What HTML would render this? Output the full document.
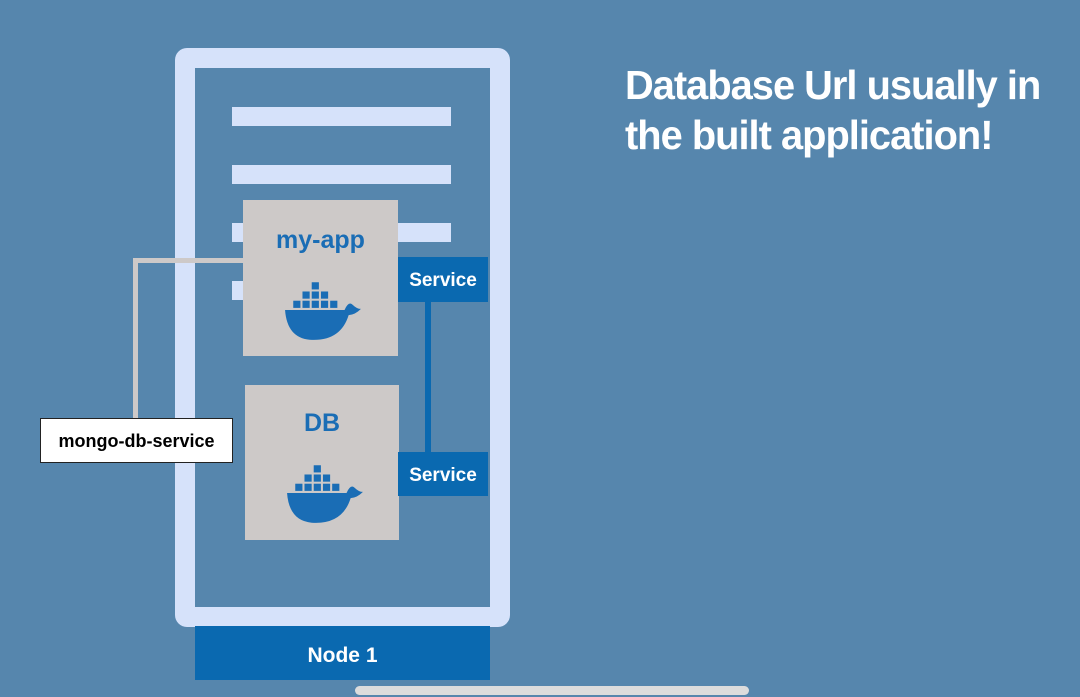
<!DOCTYPE html>
<html><head><style>
body{margin:0;width:1080px;height:697px;background:#5686ad;position:relative;overflow:hidden;font-family:"Comic Sans MS","Liberation Sans",sans-serif}
div{position:absolute;box-sizing:border-box}
.bar{background:#d6e2fa;left:232px;width:219px;height:19px}
.box{background:#cdc9c8}
.svc{background:#0a69b0;color:#fff;font-weight:bold;font-size:19px;text-align:center;left:398px;width:90px;height:45px;line-height:48px}
.lbl{color:#1a6db5;font-weight:bold;font-size:25px;width:100%;text-align:center}
</style></head><body>
<div style="left:175px;top:48px;width:335px;height:579px;border:20px solid #d6e2fa;border-radius:12px"></div>
<div class="bar" style="top:107px"></div>
<div class="bar" style="top:165px"></div>
<div class="bar" style="top:223px"></div>
<div class="bar" style="top:281px"></div>
<div style="left:133px;top:258px;width:110px;height:5px;background:#cdc9c8"></div>
<div style="left:133px;top:258px;width:5px;height:162px;background:#cdc9c8"></div>
<div class="box" style="left:243px;top:200px;width:155px;height:156px"><div class="lbl" style="top:26px">my-app</div>
<svg style="position:absolute;left:40px;top:82px" width="80" height="60" viewBox="0 0 78 58"><g fill="#1a6db5"><rect x="28" y="0" width="7" height="7"/><rect x="19" y="9" width="7" height="7"/><rect x="28" y="9" width="7" height="7"/><rect x="37" y="9" width="7" height="7"/><rect x="10" y="18" width="7" height="7"/><rect x="19" y="18" width="7" height="7"/><rect x="28" y="18" width="7" height="7"/><rect x="37" y="18" width="7" height="7"/><rect x="46" y="18" width="7" height="7"/><path d="M2 27 H60 Q64 18 68 22 Q72 26 76 26 Q70 32 64 32 Q56 58 26 56 Q4 54 2 27Z"/></g></svg></div>
<div class="box" style="left:245px;top:385px;width:154px;height:155px"><div class="lbl" style="top:24px">DB</div>
<svg style="position:absolute;left:40px;top:80px" width="80" height="60" viewBox="0 0 78 58"><g fill="#1a6db5"><rect x="28" y="0" width="7" height="7"/><rect x="19" y="9" width="7" height="7"/><rect x="28" y="9" width="7" height="7"/><rect x="37" y="9" width="7" height="7"/><rect x="10" y="18" width="7" height="7"/><rect x="19" y="18" width="7" height="7"/><rect x="28" y="18" width="7" height="7"/><rect x="37" y="18" width="7" height="7"/><rect x="46" y="18" width="7" height="7"/><path d="M2 27 H60 Q64 18 68 22 Q72 26 76 26 Q70 32 64 32 Q56 58 26 56 Q4 54 2 27Z"/></g></svg></div>
<div style="left:425px;top:300px;width:6px;height:155px;background:#0a69b0"></div>
<div class="svc" style="top:257px">Service</div>
<div class="svc" style="top:452px;height:44px">Service</div>
<div style="left:40px;top:418px;width:193px;height:45px;background:#fff;border:1.5px solid #222;font-weight:bold;font-size:18px;line-height:44px;text-align:center;color:#000">mongo-db-service</div>
<div style="left:195px;top:626px;width:295px;height:54px;background:#0a69b0;color:#fff;font-weight:bold;font-size:21px;text-align:center;line-height:60px">Node 1</div>
<div style="left:625px;top:60px;width:450px;color:#fff;font-weight:bold;font-size:41px;line-height:50px;letter-spacing:-1px;transform:scaleX(0.97);transform-origin:left top">Database Url usually in the built application!</div>
<div style="left:355px;top:686px;width:394px;height:9px;border-radius:5px;background:#dcdcdc"></div>
</body></html>
